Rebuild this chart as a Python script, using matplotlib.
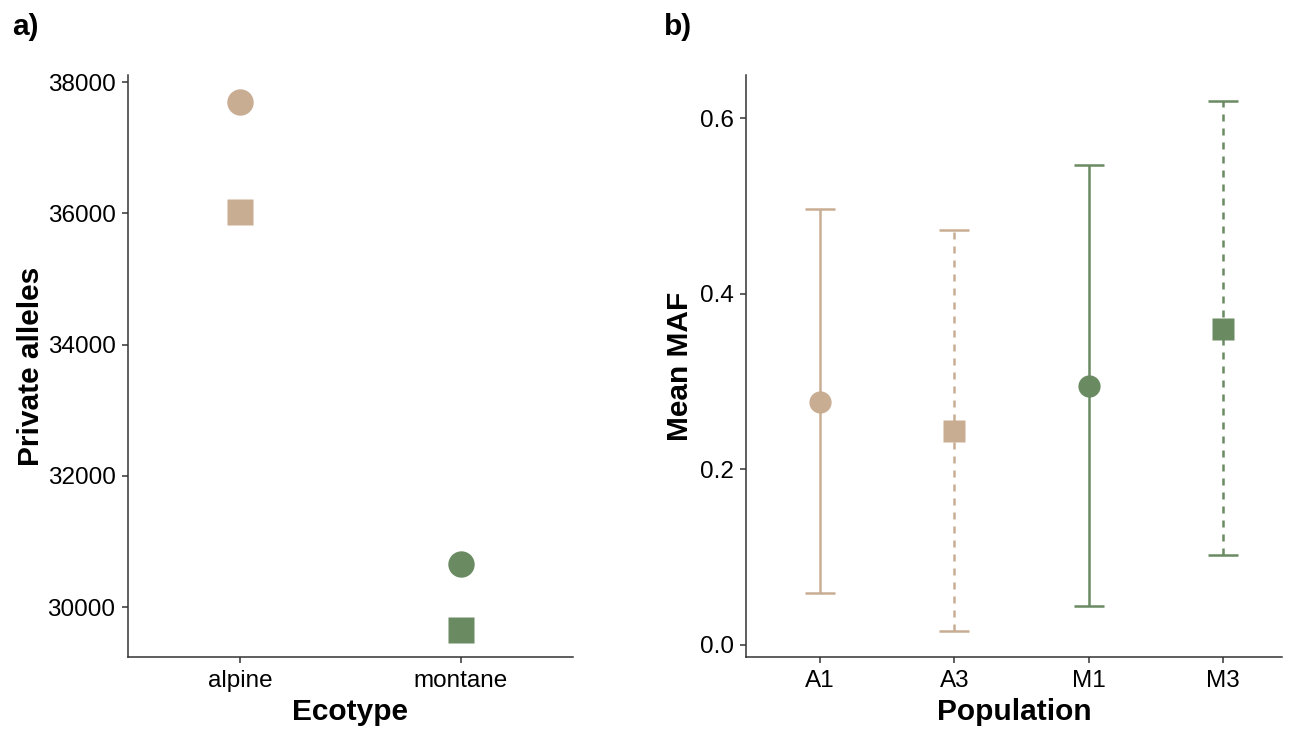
import matplotlib.pyplot as plt

plt.rcParams['font.family'] = ['Liberation Sans', 'DejaVu Sans']

TAN = "#C8AD93"
GREEN = "#6A8A62"

# panel a - private alleles per ecotype
ecotypes = ["alpine", "montane"]
alleles_circle = [37700, 30650]
alleles_square = [36020, 29650]

# panel b - mean MAF per population
populations = ["A1", "A3", "M1", "M3"]
maf_mean = [0.277, 0.244, 0.295, 0.360]
maf_low = [0.059, 0.016, 0.044, 0.102]
maf_high = [0.496, 0.473, 0.547, 0.620]
pop_colors = [TAN, TAN, GREEN, GREEN]
pop_markers = ["o", "s", "o", "s"]
pop_dashed = [False, True, False, True]

fig = plt.figure(figsize=(12.99, 7.31), dpi=100)
ax1 = fig.add_axes([0.0985, 0.1012, 0.3426, 0.796])
ax2 = fig.add_axes([0.5743, 0.1012, 0.4126, 0.796])

def style(ax):
    for s in ["top", "right"]:
        ax.spines[s].set_visible(False)
    for s in ["left", "bottom"]:
        ax.spines[s].set_color("#333333")
        ax.spines[s].set_linewidth(1.1)
    ax.tick_params(length=4, width=1.1, pad=5, color="#333333", labelsize=17.5, labelcolor="black")

xs = [1, 2]
cols = [TAN, GREEN]
for x, yc, ys, c in zip(xs, alleles_circle, alleles_square, cols):
    ax1.plot(x, yc, "o", ms=19, color=c, mec="none")
    ax1.plot(x, ys, "s", ms=19, color=c, mec="none")
ax1.set_xticks(xs, ecotypes)
ax1.set_xlim(0.49, 2.51)
ax1.set_ylim(29238, 38107)
ax1.set_yticks([30000, 32000, 34000, 36000, 38000])
ax1.set_xlabel("Ecotype", fontsize=21.5, fontweight="bold", labelpad=5)
ax1.set_ylabel("Private alleles", fontsize=21.5, fontweight="bold", labelpad=2)
style(ax1)

for i, (m, lo, hi, c, mk, d) in enumerate(zip(maf_mean, maf_low, maf_high, pop_colors, pop_markers, pop_dashed)):
    x = i + 1
    eb = ax2.errorbar(x, m, yerr=[[m - lo], [hi - m]], fmt="none", ecolor=c,
                      elinewidth=1.8, capsize=10.5, capthick=1.8)
    if d:
        eb[2][0].set_linestyle((0, (2.8, 2.8)))
    ax2.plot(x, m, mk, ms=16, color=c, mec="none", zorder=3)
ax2.set_xticks(range(1, 5), populations)
ax2.set_xlim(0.448, 4.44)
ax2.set_ylim(-0.0137, 0.649)
ax2.set_yticks([0.0, 0.2, 0.4, 0.6])
ax2.set_xlabel("Population", fontsize=21.5, fontweight="bold", labelpad=5)
ax2.set_ylabel("Mean MAF", fontsize=21.5, fontweight="bold", labelpad=4)
style(ax2)

fig.text(0.009, 0.963, "a)", fontsize=21.5, fontweight="bold", va="center")
fig.text(0.511, 0.963, "b)", fontsize=21.5, fontweight="bold", va="center")

fig.savefig("out.png", dpi=100)
